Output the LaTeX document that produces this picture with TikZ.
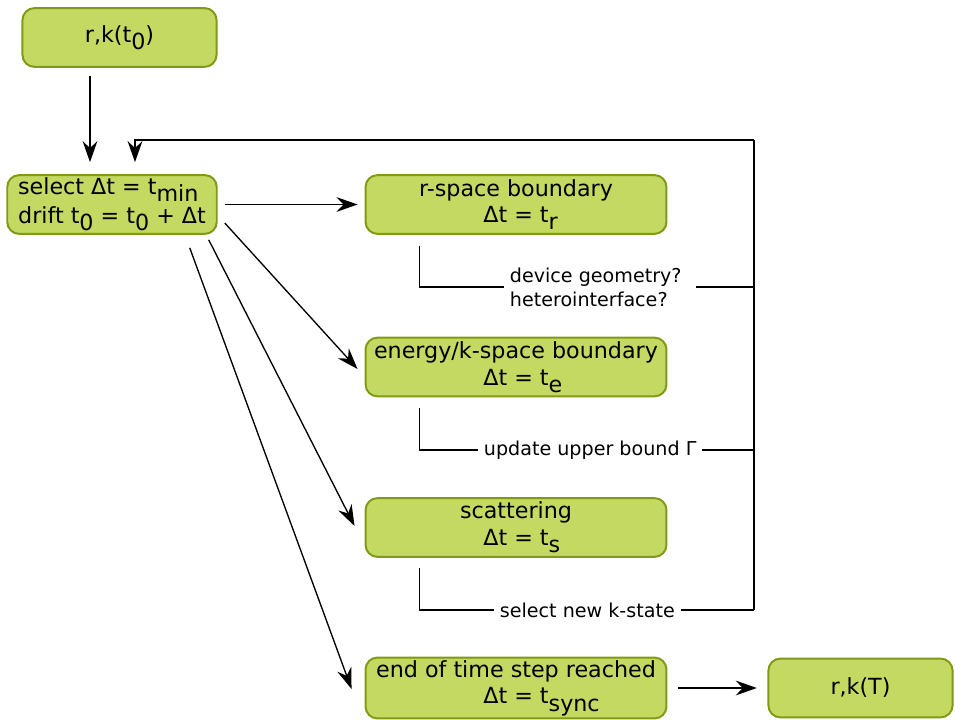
\documentclass[tikz,border=0pt]{standalone}
\usepackage{fontspec}
\setmainfont{DejaVu Sans}
\usetikzlibrary{arrows.meta}
\usetikzlibrary{positioning}

\definecolor{boxgruen}{RGB}{195,217,98}
\definecolor{randgruen}{RGB}{128,154,24}

\newcommand{\tief}[1]{\raisebox{-0.32em}{#1}}
\newcommand{\tiefr}[1]{\rlap{\raisebox{-0.32em}{#1}}}

\tikzset{
    kasten/.style={draw=randgruen, fill=boxgruen, line width=1.4pt, rounded corners=8.5pt,
        minimum height=41.8pt, inner sep=2pt, align=center, font=\fontsize{15.8}{19}\selectfont},
    hinweis/.style={fill=white, inner xsep=4pt, inner ysep=1pt, align=left,
        font=\fontsize{13.6}{17}\selectfont},
    linie/.style={line width=0.95pt},
    pfeil/.style={linie, -{Stealth[length=15pt,width=10.5pt,inset=5pt]}}
}

\begin{document}
\begin{tikzpicture}[x=0.025cm, y=-0.025cm]
    \useasboundingbox (0,0) rectangle (955,720);

    % Kaesten
    \node[kasten, minimum width=138pt] (start) at (119.5,37.5) {r,k(t\tief{0})};
    \node[kasten, minimum width=149pt, align=left, font=\fontsize{15.8}{20.5}\selectfont] (select) at (112,204.5)
        {select Δt = t\tief{min}\\drift t\tief{0} = t\tief{0} + Δt};
    \node[kasten, minimum width=214pt] (rspace) at (516,204.5) {r-space boundary\\Δt = t\tiefr{r}};
    \node[kasten, minimum width=214pt] (energy) at (516,367) {energy/k-space boundary\\Δt = t\tiefr{e}};
    \node[kasten, minimum width=214pt] (scatter) at (516,527.5) {scattering\\Δt = t\tiefr{s}};
    \node[kasten, minimum width=214pt] (end) at (516,688) {end of time step reached\\Δt = t\tiefr{sync}};
    \node[kasten, minimum width=131pt] (final) at (860.5,688) {r,k(T)};

    % Hinweise
    \node[hinweis, anchor=west] (geo) at (504,287) {device geometry?\\heterointerface?};
    \node[hinweis, anchor=west] (gamma) at (478,450) {update upper bound Γ};
    \node[hinweis, anchor=west] (kneu) at (494,610) {select new k-state};

    % Pfeile
    \draw[pfeil, shorten <=5.7pt, shorten >=8.5pt] ([shift={(-29.5,0)}]start.south) -- ([shift={(-22,0)}]select.north);
    \draw[pfeil, shorten <=5pt] (select.east) -- ([shift={(-7,0)}]rspace.west);
    \draw[pfeil] ([shift={(7,18.5)}]select.east) -- ([shift={(-7,2)}]energy.west);
    \draw[pfeil] ([shift={(-9,5)}]select.south east) -- ([shift={(-10,-1.5)}]scatter.west);
    \draw[pfeil] ([shift={(-28,13)}]select.south east) -- ([shift={(-13,1)}]end.west);
    \draw[pfeil, shorten <=7.5pt, shorten >=7.5pt] (end.east) -- (final.west);

    % Ruecklauf
    \coordinate (rueck) at (754,140);
    \coordinate (rueckende) at (754,610);
    \draw[linie] (rueckende) -- (rueck);
    \draw[pfeil, shorten >=8.5pt] (rueck) -| ([shift={(23,0)}]select.north);
    \draw[linie] ([shift={(55,11)}]rspace.south west) |- (geo.west);
    \draw[linie, shorten <=6pt] (geo.east) -- (geo.east -| rueck);
    \draw[linie] ([shift={(55,11)}]energy.south west) |- (gamma.west);
    \draw[linie] (gamma.east) -- (gamma.east -| rueck);
    \draw[linie] ([shift={(55,10.5)}]scatter.south west) |- (kneu.west);
    \draw[linie] (kneu.east) -- (kneu.east -| rueck);
\end{tikzpicture}
\end{document}
